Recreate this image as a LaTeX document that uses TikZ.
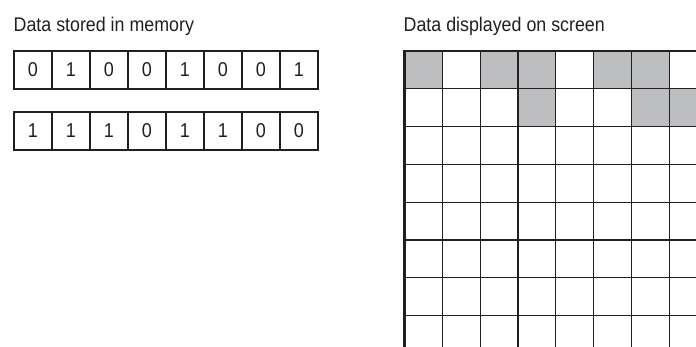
\documentclass[tikz,border=0pt]{standalone}
\usepackage{fontspec}
\setmainfont{Liberation Sans}[FakeStretch=0.9]
\definecolor{linec}{HTML}{231F20}
\definecolor{shade}{HTML}{BCBEC0}
\begin{document}
\begin{tikzpicture}[x=1pt,y=-1pt,
  title/.style={anchor=base west,inner sep=0pt,font=\fontsize{19.8}{20}\selectfont,text=linec},
  bitcell/.style={draw=linec,line width=1.2pt,minimum width=38pt,minimum height=38pt,inner sep=0pt,outer sep=0pt,anchor=north west,font=\fontsize{20}{20}\selectfont,text=linec},
  pixcell/.style={draw=linec,line width=1.2pt,minimum width=37.8pt,minimum height=37.8pt,inner sep=0pt,outer sep=0pt,anchor=north west,fill=shade},
  border/.style={draw=linec,line width=2.2pt}]
\useasboundingbox (0,0) rectangle (696,346);
\clip (0,0) rectangle (696,346);
\fill[white] (0,0) rectangle (696,346);
% titles
\node[title] (t1) at (13.5,31) {Data stored in memory};
\node[title] (t2) at (403.5,31) {Data displayed on screen};
% memory rows
\foreach \b [count=\i] in {0,1,0,0,1,0,0,1}
  \node[bitcell] (ma-\i) at ({14+38*(\i-1)},51) {\b};
\foreach \b [count=\i] in {1,1,1,0,1,1,0,0}
  \node[bitcell] (mb-\i) at ({14+38*(\i-1)},112) {\b};
\draw[border] (ma-1.north west) rectangle (ma-8.south east);
\draw[border] (mb-1.north west) rectangle (mb-8.south east);
% screen grid
\foreach \pat [count=\r] in {{1,0,1,1,0,1,1,0},{0,0,0,1,0,0,1,1},{0,0,0,0,0,0,0,0},{0,0,0,0,0,0,0,0},{0,0,0,0,0,0,0,0},{0,0,0,0,0,0,0,0},{0,0,0,0,0,0,0,0},{0,0,0,0,0,0,0,0}}
  \foreach \s [count=\c] in \pat
    \node[pixcell,fill opacity=\s,draw opacity=1] (g-\r-\c) at ({404.5+37.8*(\c-1)},{51+37.8*(\r-1)}) {};
\draw[border] (g-8-1.south west) -- (g-1-1.north west) -- (g-1-8.north east);
\end{tikzpicture}
\end{document}
